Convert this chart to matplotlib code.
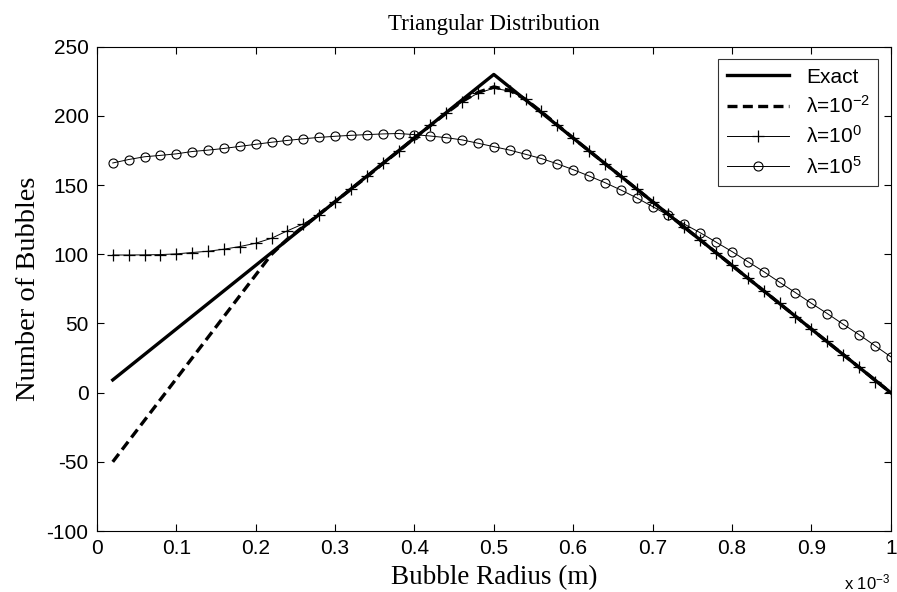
import numpy as np
import matplotlib
matplotlib.use('Agg')
import matplotlib.pyplot as plt
from matplotlib.ticker import FuncFormatter, MultipleLocator

plt.rcParams['axes.unicode_minus'] = False
plt.rcParams['mathtext.default'] = 'regular'

# Bubble radius grid in mm (plotted in m)
radius_mm = [0.02, 0.04, 0.06, 0.08, 0.10, 0.12, 0.14, 0.16, 0.18, 0.20,
             0.22, 0.24, 0.26, 0.28, 0.30, 0.32, 0.34, 0.36, 0.38, 0.40,
             0.42, 0.44, 0.46, 0.48, 0.50, 0.52, 0.54, 0.56, 0.58, 0.60,
             0.62, 0.64, 0.66, 0.68, 0.70, 0.72, 0.74, 0.76, 0.78, 0.80,
             0.82, 0.84, 0.86, 0.88, 0.90, 0.92, 0.94, 0.96, 0.98, 1.00]

exact = [9.2, 18.4, 27.6, 36.8, 46, 55.2, 64.4, 73.6, 82.8, 92,
         101.2, 110.4, 119.6, 128.8, 138, 147.2, 156.4, 165.6, 174.8, 184,
         193.2, 202.4, 211.6, 220.8, 230, 220.8, 211.6, 202.4, 193.2, 184,
         174.8, 165.6, 156.4, 147.2, 138, 128.8, 119.6, 110.4, 101.2, 92,
         82.8, 73.6, 64.4, 55.2, 46, 36.8, 27.6, 18.4, 9.2, 0]

lam_m2 = [-50, -35, -20, -5, 10, 25, 40, 55, 70, 85,
          100, 111, 120, 129, 138, 147, 156, 165.5, 174.5, 184,
          193, 202, 210.5, 217, 221, 218.5, 212, 203, 193.5, 184,
          174.8, 165.6, 156.4, 147.2, 138, 128.8, 119.6, 110.4, 101.2, 92,
          82.8, 73.6, 64.4, 55.2, 46, 36.8, 27.6, 18.4, 9.2, 0]

lam_0 = [99.5, 99.5, 99.6, 99.8, 100.3, 101.3, 102.2, 103.7, 105.6, 108,
         111.6, 117, 122, 128.5, 137.5, 147, 156.5, 166, 175, 184.5,
         193.5, 202, 210, 216.5, 220, 218, 212.5, 203.5, 193.5, 184,
         175, 165.5, 156.5, 147, 138, 129, 119.5, 110.5, 101, 92,
         83, 73.5, 64.5, 55, 46, 37, 27.5, 18.5, 8, 0.5]

lam_5 = [166, 168.5, 170.5, 171.5, 172.6, 174.3, 175.3, 176.5, 178, 179.5,
         181, 182.3, 183.5, 184.5, 185.3, 186, 186.5, 187, 187.3, 186.5,
         185.5, 184.3, 182.7, 180.3, 177.8, 175.3, 172.3, 169.2, 165.4, 161.2,
         156.6, 151.8, 146.5, 140.8, 134.5, 128.2, 121.8, 115.6, 108.8, 102,
         94.7, 87.5, 79.8, 72.3, 64.6, 57.2, 49.5, 42, 34, 26]

x = np.array(radius_mm) * 1e-3

fig = plt.figure(figsize=(8.97, 5.92), dpi=100)
ax = fig.add_axes([0.108, 0.103, 0.885, 0.818])

ax.plot(x, exact, '-', color='black', lw=2.4, label='Exact')
ax.plot(x, lam_m2, '--', color='black', lw=2.4, dashes=(3, 1.6), label='\u03bb=10$^{-2}$')
ax.plot(x, lam_0, '-', color='black', lw=0.7, marker='+', markersize=8,
        markeredgewidth=0.9, label='\u03bb=10$^{0}$')
ax.plot(x, lam_5, '-', color='black', lw=0.7, marker='o', markersize=6.5,
        markerfacecolor='none', markeredgewidth=0.8, label='\u03bb=10$^{5}$')

ax.set_xlim(0, 1e-3)
ax.set_ylim(-100, 250)
ax.xaxis.set_major_locator(MultipleLocator(1e-4))
ax.yaxis.set_major_locator(MultipleLocator(50))
ax.xaxis.set_major_formatter(FuncFormatter(lambda v, p: ('%g' % round(v * 1e3, 3))))
ax.tick_params(direction='in', top=True, right=True, length=5, width=0.8,
               labelsize=15, pad=6)
for lbl in ax.get_xticklabels() + ax.get_yticklabels():
    lbl.set_family('Liberation Sans')
for s in ax.spines.values():
    s.set_linewidth(0.8)

ax.set_title('Triangular Distribution', family='Liberation Serif', fontsize=16.5, pad=12)
ax.set_xlabel('Bubble Radius (m)', family='Liberation Serif', fontsize=19.5, labelpad=5)
ax.set_ylabel('Number of Bubbles', family='Liberation Serif', fontsize=20.5, labelpad=4)
ax.text(1.0, -0.085, 'x 10$^{-3}$', transform=ax.transAxes, ha='right', va='top',
        family='Liberation Sans', fontsize=12)

leg = ax.legend(loc='upper right', frameon=True, fancybox=False, edgecolor='black',
                prop={'family': 'Liberation Sans', 'size': 15}, handlelength=3.0,
                numpoints=1, borderaxespad=0.6, labelspacing=0.4, borderpad=0.4)
leg.get_frame().set_linewidth(0.8)

fig.savefig('out.png', dpi=100)
